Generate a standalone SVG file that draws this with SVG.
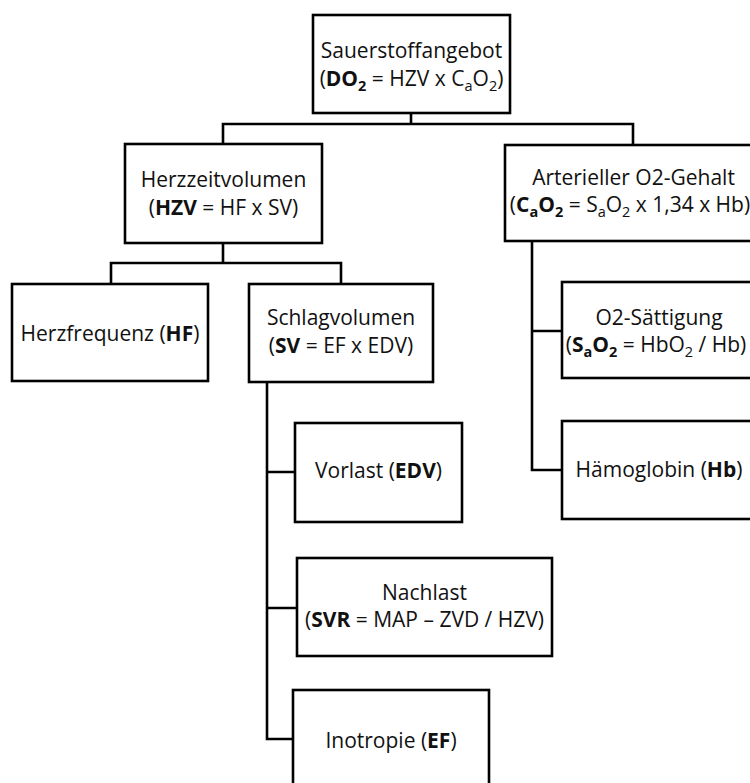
<svg xmlns="http://www.w3.org/2000/svg" width="750" height="783" viewBox="0 0 750 783">
  <style>
    .box { fill: #ffffff; stroke: #000000; stroke-width: 2.6; }
    .wire { fill: none; stroke: #000000; stroke-width: 2.6; stroke-linecap: square; }
    text { font-family: "Open Sans", "Noto Sans", "Liberation Sans", sans-serif; font-size: 21px; fill: #111111; text-anchor: middle; }
    .b { font-weight: bold; }
    .sub { font-size: 14.5px; }
  </style>
  <rect width="750" height="783" fill="#ffffff"/>

  <g id="connectors">
    <path class="wire" d="M411 113 V124 M223 124 H633 M223 124 V144 M633 124 V145"/>
    <path class="wire" d="M223 243 V263 M111 263 H341 M111 263 V284 M341 263 V284"/>
    <path class="wire" d="M532 240 V470 H562 M532 331 H562"/>
    <path class="wire" d="M267 382 V739 H293 M267 472 H295 M267 608 H297"/>
  </g>

  <g id="sauerstoffangebot">
    <rect class="box" x="313" y="15" width="197" height="98"/>
    <text x="411.5" y="58">Sauerstoffangebot</text>
    <text x="411.5" y="86">(<tspan class="b">DO<tspan class="sub" dy="5">2</tspan></tspan><tspan dy="-5"> = HZV x C</tspan><tspan class="sub" dy="5">a</tspan><tspan dy="-5">O</tspan><tspan class="sub" dy="5">2</tspan><tspan dy="-5">)</tspan></text>
  </g>

  <g id="herzzeitvolumen">
    <rect class="box" x="125" y="144" width="197" height="99"/>
    <text x="223.5" y="187">Herzzeitvolumen</text>
    <text x="223.5" y="215">(<tspan class="b">HZV</tspan> = HF x SV)</text>
  </g>

  <g id="arterieller-o2-gehalt">
    <rect class="box" x="505" y="145" width="260" height="96"/>
    <text x="633.5" y="185">Arterieller O2-Gehalt</text>
    <text x="630" y="212">(<tspan class="b">C<tspan class="sub" dy="5">a</tspan><tspan dy="-5">O</tspan><tspan class="sub" dy="5">2</tspan></tspan><tspan dy="-5"> = S</tspan><tspan class="sub" dy="5">a</tspan><tspan dy="-5">O</tspan><tspan class="sub" dy="5">2</tspan><tspan dy="-5"> x 1,34 x Hb)</tspan></text>
  </g>

  <g id="herzfrequenz">
    <rect class="box" x="12" y="284" width="196" height="97"/>
    <text x="110" y="341">Herzfrequenz (<tspan class="b">HF</tspan>)</text>
  </g>

  <g id="schlagvolumen">
    <rect class="box" x="249" y="284" width="184" height="98"/>
    <text x="341" y="325">Schlagvolumen</text>
    <text x="341" y="353">(<tspan class="b">SV</tspan> = EF x EDV)</text>
  </g>

  <g id="o2-saettigung">
    <rect class="box" x="562" y="282" width="200" height="96"/>
    <text x="659" y="325">O2-Sättigung</text>
    <text x="656" y="352">(<tspan class="b">S<tspan class="sub" dy="5">a</tspan><tspan dy="-5">O</tspan><tspan class="sub" dy="5">2</tspan></tspan><tspan dy="-5"> = HbO</tspan><tspan class="sub" dy="5">2</tspan><tspan dy="-5"> / Hb)</tspan></text>
  </g>

  <g id="haemoglobin">
    <rect class="box" x="562" y="421" width="200" height="98"/>
    <text x="659" y="477">Hämoglobin (<tspan class="b">Hb</tspan>)</text>
  </g>

  <g id="vorlast">
    <rect class="box" x="295" y="423" width="167" height="99"/>
    <text x="378.5" y="478">Vorlast (<tspan class="b">EDV</tspan>)</text>
  </g>

  <g id="nachlast">
    <rect class="box" x="297" y="558" width="255" height="98"/>
    <text x="424.5" y="600">Nachlast</text>
    <text x="424.5" y="627">(<tspan class="b">SVR</tspan> = MAP – ZVD / HZV)</text>
  </g>

  <g id="inotropie">
    <rect class="box" x="293" y="690" width="196" height="110"/>
    <text x="391" y="748">Inotropie (<tspan class="b">EF</tspan>)</text>
  </g>
</svg>
